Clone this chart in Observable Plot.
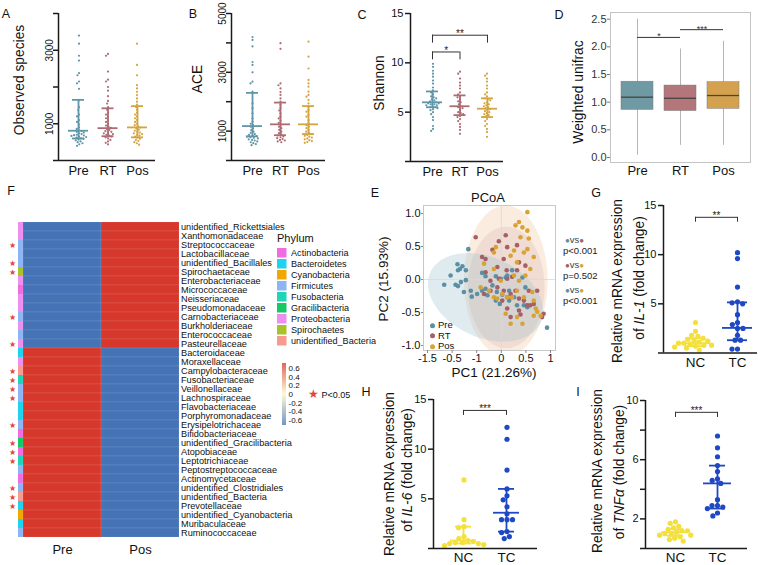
<!DOCTYPE html>
<html>
<head>
<meta charset="utf-8">
<script src="https://cdn.jsdelivr.net/npm/d3@7"></script>
<script src="https://cdn.jsdelivr.net/npm/@observablehq/plot@0.6"></script>
<style>
  html, body { margin: 0; padding: 0; background: #fff; }
  #fig { position: relative; width: 766px; height: 565px; overflow: hidden; background: #fff;
         font-family: "Liberation Sans", Arial, Helvetica, sans-serif; color: #111; }
  .t { position: absolute; white-space: nowrap; line-height: 1; }
  #phylumLegend, #phylumLegend * { font-family: "Liberation Sans", Arial, sans-serif !important; font-size: 9.1px !important; color: #111 !important; }
</style>
</head>
<body>
<div id="fig"></div>
<script>
// ================= DATA =================
const alphaGroups = ["Pre", "RT", "Pos"];
const alphaColors = ["#6195a8", "#ad6b73", "#d3a53f"];

// A: Observed species
const observedPre = [3400, 3180, 2850, 2720, 2380, 2320, 2150, 2100, 1950, 1640, 1450, 1380, 1250, 1200, 1100, 1050, 980, 900, 860, 820, 800, 780, 760, 740, 720, 700, 690, 680, 670, 650, 640, 620, 600, 590, 570, 550, 520, 500, 470, 440, 400];
const observedRT = [2900, 2850, 2420, 2200, 2150, 2000, 1900, 1750, 1620, 1550, 1450, 1380, 1300, 1250, 1200, 1150, 1100, 1050, 1000, 950, 920, 890, 860, 830, 800, 780, 760, 740, 720, 700, 680, 650, 630, 600, 560, 520, 480, 440];
const observedPos = [3180, 2600, 2320, 2050, 1960, 1870, 1780, 1690, 1600, 1520, 1450, 1380, 1300, 1250, 1200, 1150, 1100, 1050, 1000, 960, 930, 900, 870, 840, 810, 780, 760, 740, 720, 700, 680, 650, 620, 590, 560, 530, 500, 470, 430];
const observedMedian = [810, 880, 900];
const observedLow = [600, 660, 630];
const observedHigh = [1650, 1420, 1480];
const observedTicks = [0, 1000, 2000, 3000, 4000];
const observedTickLabels = ["", "1000", "", "3000", ""];

// B: ACE
const acePre = [4200, 4100, 3880, 3350, 3250, 3000, 2680, 2620, 2340, 1940, 1780, 1600, 1430, 1320, 1250, 1200, 1150, 1100, 1030, 980, 940, 900, 870, 850, 830, 810, 790, 770, 750, 720, 700, 680, 650, 620, 590, 560, 520];
const aceRT = [3990, 3800, 2620, 2560, 2450, 2330, 2230, 2110, 2000, 1890, 1780, 1700, 1600, 1500, 1430, 1350, 1280, 1220, 1150, 1100, 1040, 980, 930, 880, 850, 820, 790, 760, 730, 700, 680, 650, 620];
const acePos = [4040, 3530, 3130, 2740, 2620, 2510, 2340, 2230, 2170, 2060, 1940, 1830, 1720, 1660, 1550, 1490, 1370, 1260, 1200, 1150, 1100, 1030, 980, 940, 900, 870, 840, 810, 780, 750, 720, 690, 660, 630, 600];
const aceMedian = [1170, 1230, 1230];
const aceLow = [820, 860, 900];
const aceHigh = [2300, 1970, 1850];
const aceTicks = [0, 1000, 2000, 3000, 4000, 5000];
const aceTickLabels = ["", "1000", "", "3000", "", "5000"];

// C: Shannon
const shannonPre = [9.9, 9.6, 9.2, 8.9, 8.6, 8.2, 7.9, 7.5, 7.2, 7.0, 6.8, 6.6, 6.5, 6.4, 6.3, 6.2, 6.1, 6.0, 6.0, 5.9, 5.9, 5.8, 5.8, 5.7, 5.7, 5.6, 5.5, 5.5, 5.4, 5.3, 5.2, 5.0, 4.8, 4.5, 4.2, 3.6, 3.3, 3.1];
const shannonRT = [9.1, 8.9, 8.4, 8.0, 7.7, 7.4, 7.0, 6.8, 6.6, 6.5, 6.3, 6.1, 6.0, 5.8, 5.6, 5.5, 5.4, 5.2, 5.0, 4.9, 4.8, 4.6, 4.5, 4.3, 4.1, 3.8, 3.5, 3.2, 2.8];
const shannonPos = [8.9, 8.7, 8.4, 8.1, 7.7, 7.4, 7.0, 6.8, 6.6, 6.4, 6.3, 6.2, 6.0, 5.9, 5.8, 5.7, 5.6, 5.5, 5.4, 5.3, 5.2, 5.1, 5.0, 4.9, 4.8, 4.7, 4.6, 4.5, 4.3, 4.1, 3.8, 3.6, 3.3, 3.0, 2.5];
const shannonMedian = [6.0, 5.6, 5.35];
const shannonLow = [5.5, 4.7, 4.5];
const shannonHigh = [7.1, 6.7, 6.4];
const shannonTicks = [0, 5, 10, 15];
const shannonTickLabels = ["", "5", "10", "15"];
const shannonTestFrom = ["Pre", "Pre"];
const shannonTestTo = ["RT", "Pos"];
const shannonTestY = [11.1, 12.8];
const shannonTestLabel = ["*", "**"];

// D: Weighted unifrac (box summaries)
const unifracColors = ["#6f9aa3", "#b3767a", "#d4a24e"];
const unifracMin = [0.04, 0.22, 0.22];
const unifracQ1 = [0.86, 0.84, 0.88];
const unifracMedian = [1.09, 1.07, 1.12];
const unifracQ3 = [1.37, 1.30, 1.36];
const unifracMax = [2.50, 1.96, 2.10];
const unifracTicks = [0, 0.5, 1.0, 1.5, 2.0, 2.5];
const unifracTestFrom = ["Pre", "RT"];
const unifracTestTo = ["RT", "Pos"];
const unifracTestY = [2.17, 2.31];
const unifracTestLabel = ["*", "***"];

// E: PCoA
const pcoaPre = [[-0.67,0.46],[-0.89,0.23],[-0.84,0.16],[-0.88,0.14],[-0.79,0.20],[-0.72,0.14],[-1.03,0.06],[-1.16,-0.08],[-0.93,-0.08],[-0.88,-0.10],[-0.82,-0.04],[-0.72,-0.01],[-0.76,-0.19],[-0.62,-0.17],[-0.60,-0.26],[-0.39,0.10],[-0.32,0.05],[-0.39,-0.17],[-0.32,-0.14],[-0.11,0.05],[-0.01,0.01],[0.09,0.03],[0.12,0.06],[-0.09,-0.19],[0.02,-0.23],[0.16,-0.32],[-0.03,-0.37],[-0.11,-0.32],[0.46,-0.39],[0.53,-0.42],[0.32,-0.39],[0.43,0.03],[0.22,0.14],[0.93,-0.73],[-0.18,-0.09],[-0.28,-0.24],[-0.49,-0.22],[0.26,-0.27],[0.16,-0.17],[0.49,-0.12]];
const pcoaRT = [[-0.52,0.64],[-0.05,0.58],[0.09,0.67],[0.12,0.49],[0.32,0.52],[-0.39,0.34],[-0.32,0.31],[-0.18,0.45],[0.05,0.31],[-0.32,0.11],[-0.08,0.19],[0.11,0.14],[0.32,0.14],[0.36,0.26],[0.49,0.21],[-0.22,-0.02],[-0.05,0.01],[0.12,0.01],[0.22,0.04],[-0.35,-0.22],[-0.22,-0.17],[0.05,-0.17],[0.12,-0.27],[0.19,-0.22],[0.29,-0.17],[0.36,-0.29],[0.46,-0.32],[0.56,-0.17],[0.59,-0.39],[0.73,-0.17],[0.36,-0.47],[0.39,-0.53],[0.53,-0.39],[0.66,-0.37],[0.12,-0.44],[0.19,-0.57],[0.83,-0.57],[0.86,-0.52],[0.02,-0.32],[-0.08,-0.12]];
const pcoaPos = [[0.53,1.02],[0.36,0.87],[0.29,0.82],[0.43,0.79],[0.53,0.74],[0.56,0.62],[0.39,0.64],[0.26,0.44],[0.46,0.41],[0.53,0.46],[0.32,0.26],[0.19,0.36],[0.66,0.34],[-0.15,0.41],[-0.11,0.49],[-0.35,0.24],[-0.15,0.16],[0.59,0.16],[0.49,0.06],[-0.01,-0.02],[0.26,0.06],[0.36,-0.02],[-0.15,-0.27],[-0.08,-0.29],[0.02,-0.22],[0.12,-0.27],[0.22,-0.27],[0.32,-0.17],[0.46,-0.27],[0.63,-0.19],[0.66,-0.32],[0.09,-0.52],[0.32,-0.57],[0.43,-0.67],[0.70,-0.44],[0.73,-0.49],[0.80,-0.55],[0.19,-0.67],[0.66,-0.55],[-0.42,-0.12],[-0.25,-0.17]];
const pcoaColors = ["#5a90a4", "#a45f68", "#d8a334"];
// confidence ellipses: centre and two half-axis vectors (data units)
const ellipseGroup = ["Pos", "RT", "Pre"];
const ellipseCx = [0.09, 0.10, -0.32];
const ellipseCy = [-0.02, -0.12, -0.27];
const ellipseAx = [0, 0, -1.12];
const ellipseAy = [1.14, 0.92, 0.38];
const ellipseBx = [0.85, 0.78, 0.337];
const ellipseBy = [0, 0, 0.552];
const pcoaXTicks = [-1.5, -1, -0.5, 0, 0.5, 1];
const pcoaXTickLabels = ["-1.5", "-0.5", "-1", "0", "0.5", "1"];
const pcoaYTicks = [-1, -0.5, 0, 0.5, 1];
const pcoaTestA = ["Pre", "RT", "Pre"];
const pcoaTestB = ["RT", "Pos", "Pos"];
const pcoaTestP = ["p<0.001", "p=0.502", "p<0.001"];

// F: heatmap
const taxa = ["unidentified_Rickettsiales","Xanthomonadaceae","Streptococcaceae","Lactobacillaceae","unidentified_Bacillales","Spirochaetaceae","Enterobacteriaceae","Micrococcaceae","Neisseriaceae","Pseudomonadaceae","Carnobacteriaceae","Burkholderiaceae","Enterococcaceae","Pasteurellaceae","Bacteroidaceae","Moraxellaceae","Campylobacteraceae","Fusobacteriaceae","Veillonellaceae","Lachnospiraceae","Flavobacteriaceae","Porphyromonadaceae","Erysipelotrichaceae","Bifidobacteriaceae","unidentified_Gracilibacteria","Atopobiaceae","Leptotrichiaceae","Peptostreptococcaceae","Actinomycetaceae","unidentified_Clostridiales","unidentified_Bacteria","Prevotellaceae","unidentified_Cyanobacteria","Muribaculaceae","Ruminococcaceae"];
const taxaPhylum = ["Proteobacteria","Proteobacteria","Firmicutes","Firmicutes","Firmicutes","Spirochaetes","Proteobacteria","Actinobacteria","Proteobacteria","Proteobacteria","Firmicutes","Proteobacteria","Firmicutes","Proteobacteria","Bacteroidetes","Proteobacteria","unidentified_Bacteria","Fusobacteria","Firmicutes","Firmicutes","Bacteroidetes","Bacteroidetes","Firmicutes","Actinobacteria","Gracilibacteria","Actinobacteria","Fusobacteria","Firmicutes","Actinobacteria","Firmicutes","unidentified_Bacteria","Bacteroidetes","Cyanobacteria","Bacteroidetes","Firmicutes"];
const significantTaxa = ["Streptococcaceae","unidentified_Bacillales","Spirochaetaceae","Carnobacteriaceae","Pasteurellaceae","Campylobacteraceae","Fusobacteriaceae","Veillonellaceae","Lachnospiraceae","Erysipelotrichaceae","unidentified_Gracilibacteria","Atopobiaceae","Leptotrichiaceae","unidentified_Clostridiales","unidentified_Bacteria","Prevotellaceae"];
const heatSamples = ["Pre", "Pos"];
const heatPre = [-0.72,-0.72,-0.72,-0.72,-0.72,-0.72,-0.72,-0.72,-0.72,-0.72,-0.72,-0.72,-0.72,-0.72,0.72,0.72,0.72,0.72,0.72,0.72,0.72,0.72,0.72,0.72,0.72,0.72,0.72,0.72,0.72,0.72,0.72,0.72,0.72,0.72,0.72];
const heatPos = [0.72,0.72,0.72,0.72,0.72,0.72,0.72,0.72,0.72,0.72,0.72,0.72,0.72,0.72,-0.72,-0.72,-0.72,-0.72,-0.72,-0.72,-0.72,-0.72,-0.72,-0.72,-0.72,-0.72,-0.72,-0.72,-0.72,-0.72,-0.72,-0.72,-0.72,-0.72,-0.72];
const phyla = ["Actinobacteria","Bacteroidetes","Cyanobacteria","Firmicutes","Fusobacteria","Gracilibacteria","Proteobacteria","Spirochaetes","unidentified_Bacteria"];
const phylumColors = ["#f06ce2","#1ed2f0","#f0a800","#8db4f4","#1fd5b6","#15c965","#ee8ff0","#a9c22a","#f79a90"];
const colorbarTicks = [0.6, 0.4, 0.2, 0, -0.2, -0.4, -0.6];
const colorbarLabels = ["0.6", "0.4", "0.2", "0", "-0.2", "-0.4", "-0.6"];

// G, H, I: qPCR
const exprGroups = ["NC", "TC"];
const exprColors = ["#f3e03c", "#1f48c4"];
const il1NC = [3.1, 2.2, 1.8, 1.7, 1.5, 1.4, 1.3, 1.2, 1.1, 1.0, 1.0, 0.9, 0.8, 0.8, 0.7, 0.6, 0.5, 0.3];
const il1TC = [10.2, 9.6, 6.7, 5.2, 5.1, 5.0, 3.9, 3.1, 2.9, 2.5, 2.5, 1.8, 1.3, 1.3, 0.4, 0.4];
const il1Median = [1.0, 2.55];
const il1Low = [0.7, 1.3];
const il1High = [1.5, 5.15];
const il6NC = [6.9, 2.9, 2.2, 2.1, 1.2, 1.0, 0.8, 0.7, 0.6, 0.6, 0.5, 0.5, 0.4, 0.3];
const il6TC = [12.2, 11.0, 7.9, 6.0, 5.3, 4.9, 4.2, 3.5, 2.9, 2.9, 2.9, 1.7, 1.6, 1.2, 1.0];
const il6Median = [0.8, 3.6];
const il6Low = [0.5, 1.7];
const il6High = [2.2, 6.0];
const tnfNC = [1.8, 1.7, 1.5, 1.4, 1.3, 1.2, 1.2, 1.1, 1.0, 1.0, 0.9, 0.9, 0.8, 0.7, 0.6, 0.5];
const tnfTC = [7.6, 6.8, 6.2, 5.6, 5.2, 4.7, 4.6, 4.4, 3.3, 2.9, 2.9, 2.8, 2.7, 2.4, 2.2];
const tnfMedian = [1.1, 4.4];
const tnfLow = [0.85, 2.7];
const tnfHigh = [1.3, 5.6];
const exprTicks15 = [0, 5, 10, 15];
const exprTickLabels15 = ["", "5", "10", "15"];
const exprTicks10 = [0, 2, 4, 6, 8, 10];
const exprTickLabels10 = ["", "2", "", "6", "", "10"];

// ================= HELPERS =================
const FONT = '"Liberation Sans", Arial, Helvetica, sans-serif';
const baseStyle = {background: "transparent", fontFamily: FONT, fontSize: "11px", color: "#111", overflow: "visible"};
const fig = document.getElementById("fig");

function place(node, left, top) {
  node.style.position = "absolute";
  node.style.left = left + "px";
  node.style.top = top + "px";
  fig.appendChild(node);
  return node;
}
function addText(html, x, y, size, opts = {}) {
  const {rotate = 0, anchor = "middle", color = "#111"} = opts;
  const d = document.createElement("div");
  d.className = "t";
  d.innerHTML = html;
  d.style.left = x + "px";
  d.style.top = y + "px";
  d.style.fontSize = size + "px";
  d.style.color = color;
  const tx = anchor === "middle" ? "-50%" : anchor === "end" ? "-100%" : "0%";
  d.style.transform = `translate(${tx}, -50%)` + (rotate ? ` rotate(${rotate}deg)` : "");
  fig.appendChild(d);
  return d;
}
const tidy = (groups, arrays) => groups.flatMap((g, i) => arrays[i].map(v => ({g, v})));
const summarize = (groups, med, lo, hi) => groups.map((g, i) => ({g, med: med[i], lo: lo[i], hi: hi[i]}));
const tests = (from, to, y, label) => from.map((f, i) => ({from: f, to: to[i], y: y[i], label: label[i]}));

function dotPanel(o) {
  const n = o.cats.length;
  const step = (o.centers[1] - o.centers[0]) / (n - 1);
  const xDomain = [(o.axisL - o.centers[0]) / step, (o.axisR - o.centers[0]) / step];
  const mt = o.topPx - o.top, mb = o.top + o.height - o.bottomPx;
  const idx = g => o.cats.indexOf(g);
  const color = {domain: o.cats, range: o.colors};
  const dots = Plot.plot({
    width: o.width, height: o.height, marginTop: mt, marginBottom: mb,
    marginLeft: o.centers[0] - step / 2 - o.left,
    marginRight: o.left + o.width - (o.centers[1] + step / 2),
    fx: {domain: o.cats, padding: 0, axis: null, label: null},
    y: {domain: o.yDomain, axis: null},
    color, style: baseStyle,
    marks: [
      Plot.dot(o.points, Plot.dodgeX({anchor: "middle", padding: o.dodgePad}, {fx: "g", y: "v", r: o.r, fill: "g"}))
    ]
  });
  const medH = o.medHalf / step, capH = o.capHalf / step;
  const ink = "#1b1b1b";
  const marks = [
    Plot.ruleX([xDomain[0]], {stroke: ink, strokeWidth: o.axisW}),
    Plot.ruleY([o.yDomain[0]], {stroke: ink, strokeWidth: o.axisW}),
    Plot.axisY({ticks: o.yTicks, tickFormat: d => o.yLabels[o.yTicks.indexOf(d)], tickRotate: o.yRotate, tickSize: 5, tickPadding: o.yPad, fontSize: o.tickFont, stroke: ink, strokeWidth: o.axisW, label: null}),
    Plot.axisX({ticks: d3.range(n), tickFormat: i => o.cats[i], tickSize: 0, tickPadding: o.catPad, fontSize: o.catFont, label: null}),
    Plot.ruleX(o.summary, {x: d => idx(d.g), y1: "lo", y2: "hi", stroke: "g", strokeWidth: o.barW}),
    Plot.ruleY(o.summary, {y: "med", x1: d => idx(d.g) - medH, x2: d => idx(d.g) + medH, stroke: "g", strokeWidth: o.barW}),
    Plot.ruleY(o.summary, {y: "lo", x1: d => idx(d.g) - capH, x2: d => idx(d.g) + capH, stroke: "g", strokeWidth: o.barW}),
    Plot.ruleY(o.summary, {y: "hi", x1: d => idx(d.g) - capH, x2: d => idx(d.g) + capH, stroke: "g", strokeWidth: o.barW})
  ];
  if (o.brackets) {
    marks.push(
      Plot.ruleY(o.brackets, {y: "y", x1: d => idx(d.from), x2: d => idx(d.to), stroke: "#333", strokeWidth: 1}),
      Plot.ruleX(o.brackets, {x: d => idx(d.from), y1: "y", y2: d => d.y - o.legLen, stroke: "#333", strokeWidth: 1}),
      Plot.ruleX(o.brackets, {x: d => idx(d.to), y1: "y", y2: d => d.y - o.legLen, stroke: "#333", strokeWidth: 1}),
      Plot.text(o.brackets, {x: d => (idx(d.from) + idx(d.to)) / 2, y: "y", text: "label", lineAnchor: "bottom", dy: 2, fontSize: 10, fill: "#222"})
    );
  }
  const axes = Plot.plot({
    width: o.width, height: o.height, marginTop: mt, marginBottom: mb,
    marginLeft: o.axisL - o.left, marginRight: o.left + o.width - o.axisR,
    x: {domain: xDomain},
    y: {domain: o.yDomain},
    color, style: baseStyle,
    marks
  });
  place(dots, o.left, o.top);
  place(axes, o.left, o.top);
}

// ================= PANELS A, B, C =================
const alphaCommon = {cats: alphaGroups, colors: alphaColors, r: 1.1, dodgePad: 0.5, medHalf: 10, capHalf: 6, barW: 1.8, axisW: 1.5, catFont: 13, catPad: 5};
dotPanel({...alphaCommon, left: 0, top: 0, width: 165, height: 185, axisL: 58, axisR: 155, centers: [78, 137], topPx: 13, bottomPx: 160,
  yDomain: [0, 4000], yTicks: observedTicks, yLabels: observedTickLabels, yRotate: -90, yPad: 1, tickFont: 10,
  points: tidy(alphaGroups, [observedPre, observedRT, observedPos]), summary: summarize(alphaGroups, observedMedian, observedLow, observedHigh)});
dotPanel({...alphaCommon, left: 168, top: 0, width: 162, height: 185, axisL: 231, axisR: 325, centers: [252, 308], topPx: 13, bottomPx: 160,
  yDomain: [0, 5000], yTicks: aceTicks, yLabels: aceTickLabels, yRotate: -90, yPad: 1, tickFont: 10,
  points: tidy(alphaGroups, [acePre, aceRT, acePos]), summary: summarize(alphaGroups, aceMedian, aceLow, aceHigh)});
dotPanel({...alphaCommon, left: 365, top: 0, width: 145, height: 185, axisL: 410, axisR: 503, centers: [432, 487], topPx: 13, bottomPx: 161,
  yDomain: [0, 15], yTicks: shannonTicks, yLabels: shannonTickLabels, yRotate: 0, yPad: 2, tickFont: 11,
  points: tidy(alphaGroups, [shannonPre, shannonRT, shannonPos]), summary: summarize(alphaGroups, shannonMedian, shannonLow, shannonHigh),
  brackets: tests(shannonTestFrom, shannonTestTo, shannonTestY, shannonTestLabel), legLen: 0.8});

// ================= PANEL D =================
{
  const left = 570, top = 0, width = 190, height = 185, frameL = 610, frameR = 750, c0 = 637, step = 43;
  const xDomain = [(frameL - c0) / step, (frameR - c0) / step];
  const half = 16 / step;
  const boxes = alphaGroups.map((g, i) => ({g, i, min: unifracMin[i], q1: unifracQ1[i], med: unifracMedian[i], q3: unifracQ3[i], max: unifracMax[i]}));
  const sig = tests(unifracTestFrom, unifracTestTo, unifracTestY, unifracTestLabel);
  const idx = g => alphaGroups.indexOf(g);
  const p = Plot.plot({
    width, height, marginLeft: frameL - left, marginRight: left + width - frameR, marginTop: 12, marginBottom: 23,
    x: {domain: xDomain}, y: {domain: [-0.09, 2.62]},
    color: {domain: alphaGroups, range: unifracColors},
    style: baseStyle,
    marks: [
      Plot.ruleX(boxes, {x: "i", y1: "min", y2: "max", stroke: "#a3a3a3", strokeWidth: 0.8}),
      Plot.rect(boxes, {x1: d => d.i - half, x2: d => d.i + half, y1: "q1", y2: "q3", fill: "g", stroke: "#7a7a7a", strokeWidth: 0.5}),
      Plot.ruleY(boxes, {y: "med", x1: d => d.i - half, x2: d => d.i + half, stroke: "#454545", strokeWidth: 1.3}),
      Plot.ruleY(sig, {y: "y", x1: d => idx(d.from), x2: d => idx(d.to), stroke: "#333", strokeWidth: 1}),
      Plot.text(sig, {x: d => (idx(d.from) + idx(d.to)) / 2, y: "y", text: "label", lineAnchor: "bottom", dy: 2, fontSize: 9, fill: "#333"}),
      Plot.frame({stroke: "#c4c4c4", strokeWidth: 1}),
      Plot.axisY({ticks: unifracTicks, tickFormat: d => d.toFixed(1), tickSize: 3, tickPadding: 1, fontSize: 11, stroke: "#777", fill: "#333", label: null}),
      Plot.axisX({ticks: [0, 1, 2], tickFormat: i => alphaGroups[i], tickSize: 0, tickPadding: 3, fontSize: 13, label: null})
    ]
  });
  place(p, left, top);
}

// ================= PANEL E =================
{
  const pts = [
    ...pcoaPre.map(([x, y]) => ({g: "Pre", x, y})),
    ...pcoaRT.map(([x, y]) => ({g: "RT", x, y})),
    ...pcoaPos.map(([x, y]) => ({g: "Pos", x, y}))
  ];
  const ellipseFill = {Pos: "#f0c8a0", RT: "#c99a9a", Pre: "#9fc2d0"};
  const ellipseOpacity = {Pos: 0.32, RT: 0.2, Pre: 0.32};
  const ellipses = ellipseGroup.map((g, k) => ({g, pts: d3.range(0, 360, 3).map(deg => {
    const t = deg * Math.PI / 180;
    return {x: ellipseCx[k] + ellipseAx[k] * Math.cos(t) + ellipseBx[k] * Math.sin(t),
            y: ellipseCy[k] + ellipseAy[k] * Math.cos(t) + ellipseBy[k] * Math.sin(t)};
  })}));
  const p = Plot.plot({
    width: 175, height: 185, marginLeft: 33, marginRight: 10, marginTop: 10, marginBottom: 30,
    x: {domain: [-1.581, 1.102]}, y: {domain: [-1.076, 1.121]},
    color: {domain: alphaGroups, range: pcoaColors},
    style: baseStyle,
    marks: [
      ...ellipses.map(e => Plot.line(e.pts, {x: "x", y: "y", fill: ellipseFill[e.g], fillOpacity: ellipseOpacity[e.g], stroke: "none", curve: "linear-closed", clip: true})),
      Plot.ruleX([0], {stroke: "#d9d9d9", strokeWidth: 0.8}),
      Plot.ruleY([0], {stroke: "#d9d9d9", strokeWidth: 0.8}),
      Plot.dot(pts, {x: "x", y: "y", fill: "g", r: 2.3}),
      Plot.frame({stroke: "#c8c8c8", strokeWidth: 1}),
      Plot.axisX({ticks: pcoaXTicks, tickFormat: d => pcoaXTickLabels[pcoaXTicks.indexOf(d)], tickSize: 3, tickPadding: 1, fontSize: 11, stroke: "#888", label: null}),
      Plot.axisY({ticks: pcoaYTicks, tickFormat: d => d.toFixed(1), tickSize: 2, tickPadding: 1, fontSize: 11, stroke: "#888", label: null})
    ]
  });
  place(p, 390, 195);
  // inner legend
  alphaGroups.forEach((g, i) => {
    addText(`<span style="display:inline-block;width:5px;height:5px;border-radius:50%;background:${pcoaColors[i]};margin-right:3px;vertical-align:middle"></span>${g}`, 430, 325 + i * 10.5, 9.5, {anchor: "start"});
  });
  // pairwise tests
  pcoaTestA.forEach((a, i) => {
    const ca = pcoaColors[alphaGroups.indexOf(a)], cb = pcoaColors[alphaGroups.indexOf(pcoaTestB[i])];
    addText(`<span style="color:${ca};font-size:8px">●</span>vs<span style="color:${cb};font-size:8px">●</span>`, 565, 240 + i * 25, 9.5, {anchor: "start", color: "#444"});
    addText(pcoaTestP[i], 563, 251 + i * 25, 9.5, {anchor: "start", color: "#222"});
  });
}

// ================= PANEL F =================
{
  const rows = taxa.map((t, i) => ({taxon: t, phylum: taxaPhylum[i], sig: significantTaxa.includes(t)}));
  const cells = taxa.flatMap((t, i) => [{taxon: t, sample: heatSamples[0], value: heatPre[i]}, {taxon: t, sample: heatSamples[1], value: heatPos[i]}]);
  const heatColor = {type: "linear", domain: [-0.72, 0, 0.72], range: ["#4673b5", "#fbf8c4", "#d7382c"]};
  const strip = Plot.plot({
    width: 23, height: 360, marginLeft: 18, marginRight: 0, marginTop: 17, marginBottom: 18,
    y: {domain: taxa, axis: null, padding: 0},
    color: {domain: phyla, range: phylumColors},
    style: baseStyle,
    marks: [
      Plot.cell(rows, {y: "taxon", fill: "phylum", inset: 0}),
      Plot.text(rows.filter(d => d.sig), {y: "taxon", text: () => "★", frameAnchor: "left", textAnchor: "middle", dx: -6, fill: "#e2453c", fontSize: 7.8})
    ]
  });
  place(strip, 0, 200);
  const heat = Plot.plot({
    width: 300, height: 360, marginLeft: 0, marginRight: 144, marginTop: 17, marginBottom: 18,
    x: {domain: heatSamples, padding: 0},
    y: {domain: taxa, padding: 0},
    color: heatColor,
    style: baseStyle,
    marks: [
      Plot.cell(cells, {x: "sample", y: "taxon", fill: "value", inset: 0, stroke: "#ffffff", strokeOpacity: 0.15, strokeWidth: 0.6}),
      Plot.axisY({anchor: "right", tickSize: 0, tickPadding: 1.5, fontSize: 9.2, label: null}),
      Plot.axisX({anchor: "bottom", tickSize: 0, tickPadding: 2, fontSize: 13, label: null})
    ]
  });
  place(heat, 23, 200);
  // colour bar
  const stops = d3.range(-0.72, 0.72, 0.012);
  const bar = Plot.plot({
    width: 40, height: 72, marginLeft: 6, marginRight: 30, marginTop: 5, marginBottom: 5,
    x: {domain: [0, 1], axis: null}, y: {domain: [-0.72, 0.72]},
    color: heatColor, style: baseStyle,
    marks: [
      Plot.rect(stops, {x1: 0, x2: 1, y1: d => d, y2: d => d + 0.0125, fill: d => d + 0.006}),
      Plot.axisY({anchor: "right", ticks: colorbarTicks, tickFormat: d => colorbarLabels[colorbarTicks.indexOf(d)], tickSize: 0, tickPadding: 2, fontSize: 8, label: null})
    ]
  });
  place(bar, 276, 358);
  // phylum legend
  addText("Phylum", 277, 238, 11, {anchor: "start"});
  const leg = Plot.legend({color: {type: "ordinal", domain: phyla, range: phylumColors}, columns: 1, swatchSize: 9.5});
  const holder = document.createElement("div");
  holder.id = "phylumLegend";
  holder.appendChild(leg);
  place(holder, 277, 248);
  // star legend
  addText(`<span style="color:#e2453c;font-size:12px">★</span> P&lt;0.05`, 308, 394, 9, {anchor: "start"});
}

// ================= PANELS G, H, I =================
const exprCommon = {cats: exprGroups, colors: exprColors, r: 2.6, dodgePad: 0.3, barW: 1.8, axisW: 1.5, catFont: 13.5, catPad: 4, yRotate: 0, yPad: 2, tickFont: 11};
dotPanel({...exprCommon, left: 640, top: 190, width: 126, height: 190, axisL: 663, axisR: 757, centers: [695, 737], topPx: 205, bottomPx: 352.5,
  yDomain: [0, 15], yTicks: exprTicks15, yLabels: exprTickLabels15, medHalf: 15, capHalf: 10,
  points: tidy(exprGroups, [il1NC, il1TC]), summary: summarize(exprGroups, il1Median, il1Low, il1High),
  brackets: [{from: "NC", to: "TC", y: 13.8, label: "**"}], legLen: 0.5});
dotPanel({...exprCommon, left: 405, top: 385, width: 140, height: 180, axisL: 433, axisR: 537, centers: [463, 506], topPx: 399, bottomPx: 548,
  yDomain: [0, 15], yTicks: exprTicks15, yLabels: exprTickLabels15, medHalf: 13, capHalf: 8,
  points: tidy(exprGroups, [il6NC, il6TC]), summary: summarize(exprGroups, il6Median, il6Low, il6High),
  brackets: [{from: "NC", to: "TC", y: 13.9, label: "***"}], legLen: 0.5});
dotPanel({...exprCommon, left: 615, top: 385, width: 140, height: 180, axisL: 645, axisR: 747, centers: [675, 717], topPx: 400, bottomPx: 548,
  yDomain: [0, 10], yTicks: exprTicks10, yLabels: exprTickLabels10, medHalf: 14, capHalf: 8,
  points: tidy(exprGroups, [tnfNC, tnfTC]), summary: summarize(exprGroups, tnfMedian, tnfLow, tnfHigh),
  brackets: [{from: "NC", to: "TC", y: 9.2, label: "***"}], legLen: 0.35});

// ================= TEXT LABELS =================
addText("A", 6, 14, 12.5);
addText("B", 193, 14, 12.5);
addText("C", 362, 15, 12.5);
addText("D", 559, 15, 12.5);
addText("E", 375, 193, 12.5);
addText("F", 11, 191, 12.5);
addText("G", 596, 193, 12.5);
addText("H", 366, 392, 12.5);
addText("I", 578, 392, 12.5);

addText("Observed species", 20, 80, 13.8, {rotate: -90});
addText("ACE", 198, 79, 13.8, {rotate: -90});
addText("Shannon", 380, 83, 13.8, {rotate: -90});
addText("Weighted unifrac", 579, 92, 13.8, {rotate: -90});
addText("PCoA", 488, 197, 13);
addText("PC2 (15.93%)", 384, 279, 13.5, {rotate: -90});
addText("PC1 (21.26%)", 494, 373, 13.5);

addText("Relative mRNA expression", 618, 281, 13.8, {rotate: -90});
addText("of <i>IL-1</i> (fold change)", 640, 278, 13.8, {rotate: -90});
addText("Relative mRNA expression", 390, 474, 13.8, {rotate: -90});
addText("of <i>IL-6</i> (fold change)", 408, 470, 13.8, {rotate: -90});
addText("Relative mRNA expression", 598, 471, 13.8, {rotate: -90});
addText("of <i>TNFα</i> (fold change)", 620, 472, 13.8, {rotate: -90});
</script>
</body>
</html>
